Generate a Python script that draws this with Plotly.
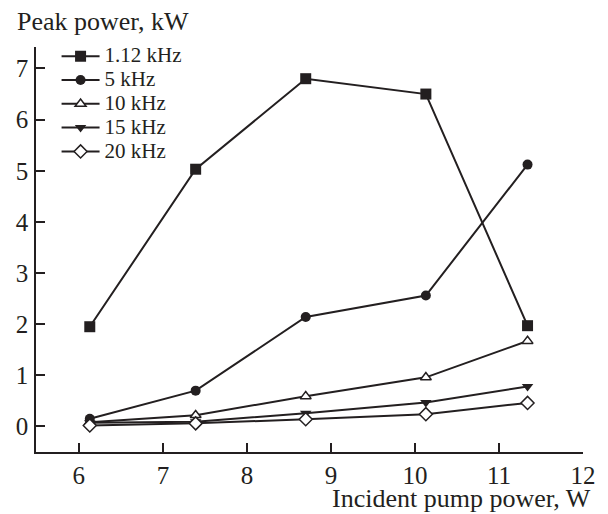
import plotly.graph_objects as go

pump_power = [6.13, 7.39, 8.70, 10.13, 11.34]
series_names = ["1.12 kHz", "5 kHz", "10 kHz", "15 kHz", "20 kHz"]
peak_1_12 = [1.95, 5.03, 6.80, 6.50, 1.97]
peak_5 = [0.15, 0.70, 2.14, 2.56, 5.12]
peak_10 = [0.08, 0.22, 0.59, 0.96, 1.67]
peak_15 = [0.07, 0.09, 0.26, 0.47, 0.78]
peak_20 = [0.02, 0.06, 0.14, 0.24, 0.46]
x_ticks = [6, 7, 8, 9, 10, 11, 12]
y_ticks = [0, 1, 2, 3, 4, 5, 6, 7]

FONT = "Liberation Serif"
INK = "#231f20"

styles = [
    dict(symbol="square", size=11, fill=INK, lw=0),
    dict(symbol="circle", size=10, fill=INK, lw=0),
    dict(symbol="triangle-up", size=9.5, fill="white", lw=1.5),
    dict(symbol="triangle-down", size=10, fill=INK, lw=0),
    dict(symbol="diamond", size=10, fill="white", lw=1.5),
]
all_series = [peak_1_12, peak_5, peak_10, peak_15, peak_20]

fig = go.Figure()
for name, ys, st in zip(series_names, all_series, styles):
    fig.add_trace(go.Scatter(
        x=pump_power, y=ys, mode="lines+markers",
        name='<span style="font-size:21px">%s</span>' % name,
        line=dict(color=INK, width=2),
        marker=dict(symbol=st["symbol"], size=st["size"], color=st["fill"],
                    line=dict(width=st["lw"], color=INK)),
    ))

L, R, T, B = 36, 21.5, 46.7, 62
W, H = 608, 514
pw, ph = W - L - R, H - T - B

fig.update_layout(
    width=W, height=H,
    margin=dict(l=L, r=R, t=T, b=B, pad=0),
    paper_bgcolor="white", plot_bgcolor="white",
    font=dict(family=FONT, color=INK, size=25),
    showlegend=True,
    legend=dict(
        x=(56.7 - L) / pw, y=(452 - 39) / ph, xanchor="left", yanchor="top",
        bgcolor="rgba(0,0,0,0)", borderwidth=0,
        font=dict(family=FONT, size=16, color=INK),
        itemwidth=38, tracegroupgap=0,
    ),
    xaxis=dict(
        range=[5.49, 12.0], tickvals=x_ticks, ticks="inside", ticklen=9, tickwidth=1.5,
        tickcolor=INK, showline=True, linecolor=INK, linewidth=1.5, showgrid=False,
        zeroline=False, tickfont=dict(size=25, family=FONT, color=INK), ticklabelstandoff=0,
    ),
    yaxis=dict(
        range=[-0.5, 7.42], tickvals=y_ticks, ticks="inside", ticklen=9, tickwidth=1.5,
        tickcolor=INK, showline=True, linecolor=INK, linewidth=1.5, showgrid=False,
        zeroline=False, tickfont=dict(size=25, family=FONT, color=INK), ticklabelstandoff=1,
    ),
    annotations=[
        dict(text="Peak power, kW", xref="paper", yref="paper",
             x=(15 - L) / pw, y=(452 - 21) / ph, xanchor="left", yanchor="middle",
             showarrow=False, font=dict(family=FONT, size=26, color=INK)),
        dict(text="Incident pump power, W", xref="paper", yref="paper",
             x=(597 - L) / pw, y=(452 - 499) / ph, xanchor="right", yanchor="middle",
             showarrow=False, font=dict(family=FONT, size=26, color=INK)),
    ],
)

fig.write_html("out.html")
